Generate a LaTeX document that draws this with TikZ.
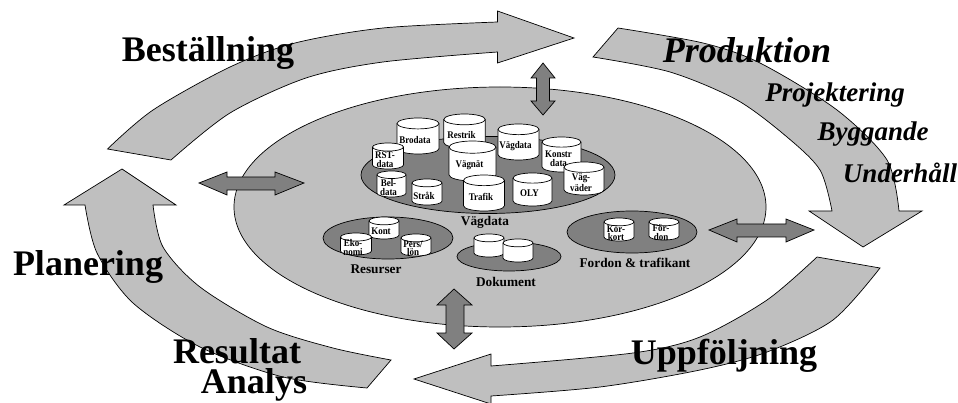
\documentclass[tikz,border=0pt]{standalone}
\usepackage{fontspec}
\setmainfont{Liberation Serif}

\tikzset{
    flowarrow/.style={draw=black, fill=black!25, line width=0.7pt},
    linkarrow/.style={draw=black, fill=black!50, line width=0.7pt},
    groupdisc/.style={draw=black, fill=black!50, line width=0.7pt},
    canbody/.style={draw=black, fill=white, line width=0.7pt},
    canlabel/.style={inner sep=0pt, align=center, xscale=0.88, transform shape, font=\fontsize{10.2}{8.4}\selectfont\bfseries},
    grouplabel/.style={inner sep=0pt, anchor=base, font=\fontsize{13.3}{14}\selectfont\bfseries},
    phaselabel/.style={inner sep=0pt, anchor=base, font=\fontsize{36}{36}\selectfont\bfseries},
    prodlabel/.style={inner sep=0pt, anchor=base, font=\fontsize{27}{27}\selectfont\bfseries\itshape}
}

% name, centre x, top y, width, height, text
\newcommand{\dbcan}[6]{
    \pgfmathsetmacro{\canrx}{#4/2}
    \pgfmathsetmacro{\canry}{#4*0.13}
    \begin{scope}[shift={(#2,#3)}]
        \draw[canbody] (-\canrx,\canry) -- (-\canrx,{#5-\canry})
            arc[start angle=180, end angle=360, x radius=\canrx pt, y radius=\canry pt]
            -- (\canrx,\canry)
            arc[start angle=0, end angle=180, x radius=\canrx pt, y radius=\canry pt] -- cycle;
        \draw[line width=0.7pt] (-\canrx,\canry)
            arc[start angle=180, end angle=360, x radius=\canrx pt, y radius=\canry pt];
        \node[canlabel] (#1) at (-3,{#5/2+\canry/2+1.5}) {#6};
    \end{scope}
}

\begin{document}
\begin{tikzpicture}[x=1pt, y=-1pt]
    \useasboundingbox (0,0) rectangle (958,403);

    % Bestallning arrow
    \draw[flowarrow] plot[smooth] coordinates {(107.5,149) (153,110) (230,67) (295,43) (383,28) (497.5,22)}
        -- (497.5,11) -- (574,38) -- (497.5,63) -- (497.5,52)
        -- plot[smooth] coordinates {(497.5,52) (383,62) (306,78) (230,113) (171,160)} -- cycle;

    % Produktion arrow
    \draw[flowarrow] plot[smooth] coordinates {(618,28) (703,43) (760,63) (837,110) (887,160) (899,211)}
        -- (922,211) -- (863,247) -- (809,211) -- (832,211)
        -- plot[smooth] coordinates {(832,211) (820,170) (787,137) (737,100) (670,72) (593,57)} -- cycle;

    % Uppfoljning arrow
    \draw[flowarrow] plot[smooth] coordinates {(880,268) (833,320) (767,352) (700,370) (600,387) (491,396)}
        -- (491,404) -- (414,379) -- (491,354) -- (491,366)
        -- plot[smooth] coordinates {(491,366) (633,353) (700,337) (767,300) (817,257)} -- cycle;

    % Planering arrow
    \draw[flowarrow] plot[smooth] coordinates {(367,388) (283,377) (200,347) (133,303) (97,253) (85,205)}
        -- (64,205) -- (122,169) -- (176,205) -- (153,205)
        -- plot[smooth] coordinates {(153,205) (163,247) (200,287) (267,327) (333,348) (391,360)} -- cycle;

    % Main disc
    \draw[draw=black, fill=black!25, line width=0.7pt] (500,207) ellipse [x radius=266pt, y radius=120pt];

    % Double arrows to the disc
    \draw[linkarrow] (543,63) -- (555,78) -- (549.5,78) -- (549.5,101) -- (555,101) -- (543,115)
        -- (531,101) -- (536.5,101) -- (536.5,78) -- (531,78) -- cycle;
    \draw[linkarrow] (199,183) -- (227,172) -- (227,177) -- (275,177) -- (275,172) -- (304,183)
        -- (275,195) -- (275,190) -- (227,190) -- (227,195) -- cycle;
    \draw[linkarrow] (709,230) -- (737,219) -- (737,224) -- (786,224) -- (786,219) -- (814,230)
        -- (786,242) -- (786,237) -- (737,237) -- (737,242) -- cycle;
    \draw[linkarrow] (454,289) -- (472,305) -- (464,305) -- (464,333) -- (472,333) -- (454,349)
        -- (437,333) -- (446,333) -- (446,305) -- (437,305) -- cycle;

    % Vagdata group
    \draw[groupdisc] (488,175) ellipse [x radius=127pt, y radius=38.5pt];
    \dbcan{brodata}{418}{118}{42}{36}{Brodata}
    \dbcan{restrik}{464.5}{114}{41.5}{34}{Restrik}
    \dbcan{vagdata}{518.5}{124}{41}{36}{Vägdata}
    \dbcan{konstr}{561.5}{137}{39}{35}{Konstr\\data}
    \dbcan{vagvader}{584}{162}{40}{33}{Väg-\\väder}
    \dbcan{rstdata}{388}{143}{31}{26}{RST-\\data}
    \dbcan{beldata}{391.5}{171}{29}{26}{Bel-\\data}
    \dbcan{strak}{427}{179}{30}{26}{Stråk}
    \dbcan{vagnat}{472.5}{141}{47}{40}{Vägnät}
    \dbcan{trafik}{484}{175}{41}{36}{Trafik}
    \dbcan{oly}{532.5}{173}{39}{33}{OLY}
    \node[grouplabel] (vagdatatext) at (485,226) {Vägdata};

    % Resurser group
    \draw[groupdisc] (388,238) ellipse [x radius=65pt, y radius=21pt];
    \dbcan{kont}{384}{217}{30}{22}{Kont}
    \dbcan{ekonomi}{356}{233}{31}{22}{Eko-\\nomi}
    \dbcan{perslon}{416}{234}{30}{22}{Pers/\\lön}
    \node[grouplabel] (resurser) at (376,274) {Resurser};

    % Dokument group
    \draw[groupdisc] (509,256.5) ellipse [x radius=52pt, y radius=14.5pt];
    \dbcan{dokone}{489}{234}{30}{23}{}
    \dbcan{doktwo}{518}{239}{30}{23}{}
    \node[grouplabel] (dokument) at (506,287) {Dokument};

    % Fordon group
    \draw[groupdisc] (632,232) ellipse [x radius=65pt, y radius=21pt];
    \dbcan{korkort}{619}{218}{30}{23}{Kör-\\kort}
    \dbcan{fordon}{664}{218}{30}{22}{För-\\don}
    \node[grouplabel] (trafikant) at (635,268) {Fordon \& trafikant};

    % Phase labels
    \node[phaselabel] (bestallning) at (208,62) {Beställning};
    \node[phaselabel] (planering) at (88,276) {Planering};
    \node[phaselabel] (resultat) at (237,363) {Resultat};
    \node[phaselabel] (analys) at (254,393) {Analys};
    \node[phaselabel] (uppfoljning) at (724,364) {Uppföljning};

    % Produktion labels
    \node[phaselabel, font=\fontsize{36}{36}\selectfont\bfseries\itshape] (produktion) at (747,63) {Produktion};
    \node[prodlabel] (projektering) at (835,102) {Projektering};
    \node[prodlabel] (byggande) at (873,141) {Byggande};
    \node[prodlabel] (underhall) at (900,183) {Underhåll};
\end{tikzpicture}
\end{document}
